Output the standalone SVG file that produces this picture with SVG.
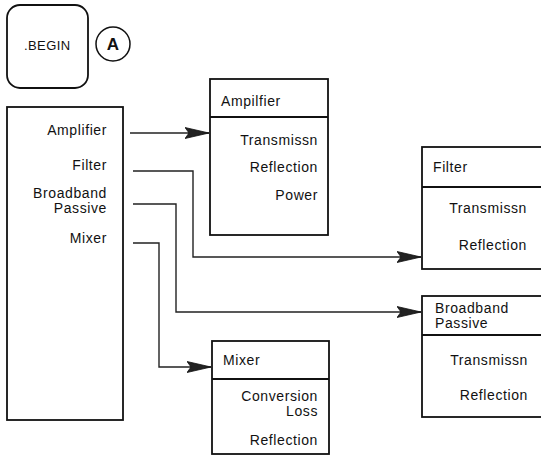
<svg xmlns="http://www.w3.org/2000/svg" width="541" height="466" viewBox="0 0 541 466">
<defs>
<style>
.box{fill:#fff;stroke:#111;stroke-width:1.8}
.sep{stroke:#111;stroke-width:1.8}
.conn{fill:none;stroke:#222;stroke-width:1.4}
text{font-family:"Liberation Sans",Arial,sans-serif;font-size:14px;letter-spacing:0.6px;fill:#111}
.r{text-anchor:end}
</style>
<marker id="arr" markerWidth="24" markerHeight="14" refX="24" refY="7" orient="auto" markerUnits="userSpaceOnUse">
<path d="M0,1.5 L24,7 L0,12.5 L4,7 Z" fill="#222" stroke="#111" stroke-width="0.8"/>
</marker>
</defs>
<g id="begin">
<rect x="7" y="5" width="81" height="83" rx="13" ry="13" class="box"/>
<text x="24" y="50" style="font-size:13px;letter-spacing:0.4px">.BEGIN</text>
</g>
<g id="marker-a">
<circle cx="113" cy="44" r="17" fill="#fff" stroke="#111" stroke-width="1.5"/>
<text x="113" y="50" text-anchor="middle" style="font-size:17px;letter-spacing:0;font-weight:bold">A</text>
</g>
<g id="menu">
<rect x="7" y="107" width="116" height="313" class="box"/>
<text x="107" y="135" class="r">Amplifier</text>
<text x="107" y="170" class="r">Filter</text>
<text x="107" y="198" class="r">Broadband</text>
<text x="107" y="213" class="r">Passive</text>
<text x="107" y="243" class="r">Mixer</text>
</g>
<g id="amplifier">
<rect x="210" y="79" width="118" height="156" class="box"/>
<line x1="210" y1="117" x2="328" y2="117" class="sep"/>
<text x="221" y="106">Ampilfier</text>
<text x="318" y="145" class="r">Transmissn</text>
<text x="318" y="172" class="r">Reflection</text>
<text x="318" y="200" class="r">Power</text>
</g>
<g id="filter">
<rect x="422" y="147" width="122" height="122" class="box"/>
<line x1="422" y1="187" x2="544" y2="187" class="sep"/>
<text x="433" y="172">Filter</text>
<text x="527" y="213" class="r">Transmissn</text>
<text x="527" y="250" class="r">Reflection</text>
</g>
<g id="broadband">
<rect x="422" y="296" width="122" height="121" class="box"/>
<line x1="422" y1="335" x2="544" y2="335" class="sep"/>
<text x="435" y="313">Broadband</text>
<text x="435" y="328">Passive</text>
<text x="528" y="365" class="r">Transmissn</text>
<text x="528" y="400" class="r">Reflection</text>
</g>
<g id="mixer">
<rect x="212" y="341" width="117" height="113" class="box"/>
<line x1="212" y1="379" x2="329" y2="379" class="sep"/>
<text x="223" y="365">Mixer</text>
<text x="318" y="401" class="r">Conversion</text>
<text x="318" y="416" class="r">Loss</text>
<text x="318" y="445" class="r">Reflection</text>
</g>
<g id="connectors">
<path d="M130,133 H209" class="conn" marker-end="url(#arr)"/>
<path d="M133,171 H193 V257 H421" class="conn" marker-end="url(#arr)"/>
<path d="M133,204 H176 V312 H421" class="conn" marker-end="url(#arr)"/>
<path d="M133,243 H159 V367 H211" class="conn" marker-end="url(#arr)"/>
</g>
</svg>
